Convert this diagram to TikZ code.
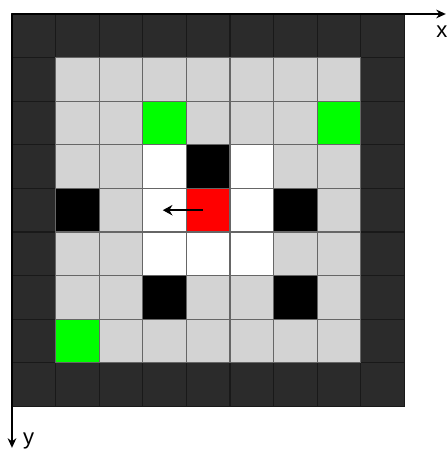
\documentclass[tikz,border=0pt]{standalone}
\usepackage{fontspec}
\setmainfont{Liberation Sans}
\usetikzlibrary{arrows.meta}
\definecolor{wall}{HTML}{2B2B2B}
\definecolor{floor}{HTML}{D3D3D3}
\definecolor{goal}{HTML}{00FF00}
\definecolor{agent}{HTML}{FF0000}
\begin{document}
\begin{tikzpicture}[
  x=1cm,y=-1cm,
  cell/.style={draw=black!60,line width=0.9pt,minimum size=1cm,inner sep=0pt,outer sep=0pt},
  edge/.style={cell,draw=black!90,fill=wall},
  ax/.style={-{Stealth[length=2.2mm,width=2mm]},line width=0.9pt},
  mv/.style={-{Stealth[length=2.2mm,width=2.4mm]},line width=1.2pt}
]
\useasboundingbox (-0.275,-0.321) rectangle (9.954,10.0);
% outer wall
\foreach \i in {0,...,8} {
  \node[edge] (w\i-0) at (\i+0.5,0.5) {};
  \node[edge] (w\i-8) at (\i+0.5,8.5) {};
  \node[edge] (w0-\i) at (0.5,\i+0.5) {};
  \node[edge] (w8-\i) at (8.5,\i+0.5) {};
}
% free cells
\foreach \i in {1,...,7}
  \foreach \j in {1,...,7}
    \node[cell,fill=floor] (c\i-\j) at (\i+0.5,\j+0.5) {};
% visible area
\foreach \i/\j in {3/3,5/3,3/4,5/4,3/5,4/5,5/5}
  \node[cell,fill=white] (v\i-\j) at (\i+0.5,\j+0.5) {};
% obstacles
\foreach \i/\j in {4/3,1/4,6/4,3/6,6/6}
  \node[cell,fill=black] (o\i-\j) at (\i+0.5,\j+0.5) {};
% goals
\foreach \i/\j in {3/2,7/2,1/7}
  \node[cell,fill=goal] (g\i-\j) at (\i+0.5,\j+0.5) {};
\node[cell,fill=agent] (bot) at (4.5,4.5) {};
\coordinate (to) at (3.46,4.5);
\draw[mv] ([xshift=-1.2mm]bot.center) -- (to);
% axes
\coordinate (o) at (0,0);
\coordinate (xend) at (9.95,0);
\coordinate (yend) at (0,9.95);
\draw[ax] (o) -- (xend);
\draw[ax] (o) -- (yend);
\node[font=\Large] (xl) at (9.86,0.4) {x};
\node[font=\Large] (yl) at (0.38,9.8) {y};
\end{tikzpicture}
\end{document}
